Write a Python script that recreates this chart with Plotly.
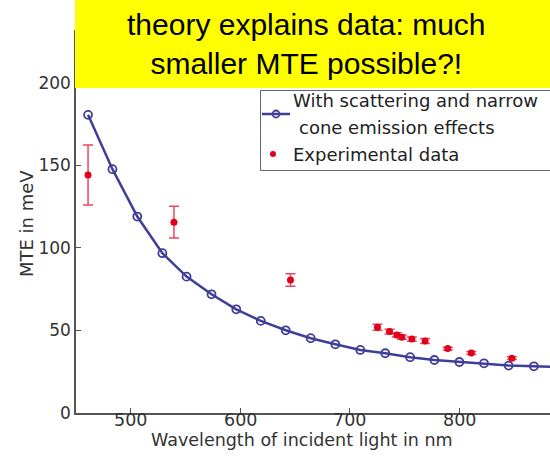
import plotly.graph_objects as go

# Simulated mean transverse energy (scattering + narrow cone emission)
wavelength_theory = [461, 483.3, 506, 528.9, 551, 573.8, 596.4, 618.8, 641.6, 664.4,
                     686.9, 709.7, 732.5, 755.2, 777.4, 800.2, 822.7, 845.2, 868.3, 891]
mte_theory = [180.6, 147.7, 119.0, 96.8, 82.6, 71.9, 62.8, 55.8, 50.1, 45.3,
              41.6, 38.2, 36.2, 33.8, 32.1, 30.9, 30.1, 28.7, 28.3, 27.8]

# Measured MTE with uncertainties
wavelength_exp = [461, 539.5, 645.9, 725.4, 736.4, 743.1, 747.7, 756.8, 768.9, 789.6, 811.1, 848.2]
mte_exp = [144.2, 115.6, 80.6, 51.9, 49.3, 47.3, 45.9, 44.8, 43.6, 39.0, 36.4, 33.2]
mte_err = [18.2, 9.6, 3.8, 1.8, 1.5, 1.3, 1.3, 1.3, 1.5, 0.8, 0.8, 0.8]

x_ticks = [500, 600, 700, 800]
y_ticks = [0, 50, 100, 150, 200]

THEORY_COLOR = "#3f3e98"
EXP_COLOR = "#e0001b"
ERR_COLOR = "#ec4662"
FONT = "DejaVu Sans, sans-serif"
BANNER_FONT = "Liberation Sans, Arial, sans-serif"
TEXT = "#333333"

W, H = 550, 461
L, T, R, B = 76, 30, 0, 48
PW, PH = W - L - R, H - T - B


def px(xp):
    return (xp - L) / PW


def py(yp):
    return (T + PH - yp) / PH


fig = go.Figure()

fig.add_trace(go.Scatter(
    x=wavelength_theory, y=mte_theory, mode="lines+markers",
    line=dict(color=THEORY_COLOR, width=2.5),
    marker=dict(symbol="circle-open", size=8, color=THEORY_COLOR,
                line=dict(color=THEORY_COLOR, width=1.8)),
    showlegend=False,
))

fig.add_trace(go.Scatter(
    x=wavelength_exp, y=mte_exp, mode="markers",
    marker=dict(symbol="circle", size=7, color=EXP_COLOR),
    error_y=dict(type="data", array=mte_err, visible=True,
                 color=ERR_COLOR, thickness=1.5, width=5),
    showlegend=False,
))

shapes = [
    # highlighted headline banner
    dict(type="rect", xref="paper", yref="paper",
         x0=px(75), x1=px(552), y0=py(88), y1=py(-2),
         fillcolor="#ffff00", line=dict(width=0), layer="above"),
    # legend frame
    dict(type="rect", xref="paper", yref="paper",
         x0=px(260.5), x1=px(560), y0=py(170.5), y1=py(90.5),
         fillcolor="white", line=dict(color="#666666", width=1), layer="above"),
    dict(type="line", xref="paper", yref="paper",
         x0=px(262), x1=px(290), y0=py(114), y1=py(114),
         line=dict(color=THEORY_COLOR, width=2.5), layer="above"),
    dict(type="circle", xref="paper", yref="paper",
         x0=px(272.5), x1=px(279.5), y0=py(117.5), y1=py(110.5),
         line=dict(color=THEORY_COLOR, width=1.8), layer="above"),
    dict(type="circle", xref="paper", yref="paper",
         x0=px(270), x1=px(276), y0=py(157), y1=py(151),
         fillcolor=EXP_COLOR, line=dict(width=0), layer="above"),
]

annotations = [
    dict(text="theory explains data: much<br>smaller MTE possible?!",
         xref="paper", yref="paper", x=px(306), y=py(44),
         xanchor="center", yanchor="middle", showarrow=False,
         font=dict(family=BANNER_FONT, size=30, color="black")),
    dict(text="With scattering and narrow", xref="paper", yref="paper",
         x=px(291), y=py(100), xanchor="left", yanchor="middle", showarrow=False,
         font=dict(family=FONT, size=18, color="#222222")),
    dict(text="cone emission effects", xref="paper", yref="paper",
         x=px(297), y=py(127), xanchor="left", yanchor="middle", showarrow=False,
         font=dict(family=FONT, size=18, color="#222222")),
    dict(text="Experimental data", xref="paper", yref="paper",
         x=px(291), y=py(154), xanchor="left", yanchor="middle", showarrow=False,
         font=dict(family=FONT, size=18, color="#222222")),
    dict(text="Wavelength of incident light in nm", xref="paper", yref="paper",
         x=px(302), y=py(440), xanchor="center", yanchor="middle", showarrow=False,
         font=dict(family=FONT, size=17.5, color=TEXT)),
    dict(text="MTE in meV", xref="paper", yref="paper", textangle=-90,
         x=px(26), y=py(224), xanchor="center", yanchor="middle", showarrow=False,
         font=dict(family=FONT, size=18, color=TEXT)),
]

# x tick labels sit right under the axis line
for v in x_ticks:
    annotations.append(dict(
        text=str(v), xref="x", yref="paper", x=v, y=py(420),
        xanchor="center", yanchor="middle", showarrow=False,
        font=dict(family=FONT, size=17.5, color=TEXT)))

fig.update_layout(
    width=W, height=H,
    margin=dict(l=L, r=R, t=T, b=B),
    paper_bgcolor="white", plot_bgcolor="white",
    font=dict(family=FONT, color=TEXT, size=17),
    shapes=shapes, annotations=annotations,
    showlegend=False,
)

fig.update_xaxes(
    range=[450, 883], tickvals=x_ticks, showticklabels=False,
    ticks="inside", ticklen=5,
    tickcolor="#555555", tickwidth=1, showline=True, linecolor="#555555",
    linewidth=1.5, showgrid=False, zeroline=False,
)
fig.update_yaxes(
    range=[0, 232], tickvals=y_ticks, ticks="inside", ticklen=5,
    tickcolor="#555555", tickwidth=1, showline=True, linecolor="#555555",
    linewidth=1.5, showgrid=False, zeroline=False,
    tickfont=dict(family=FONT, size=17, color=TEXT),
)

fig.write_html("out.html")
